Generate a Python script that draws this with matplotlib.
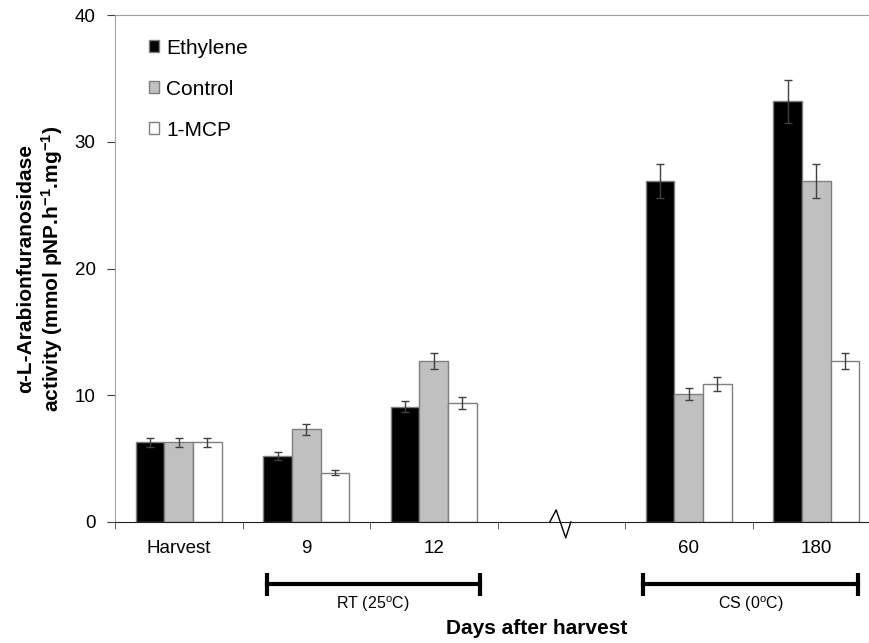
import numpy as np
import matplotlib
matplotlib.use("Agg")
import matplotlib.pyplot as plt

plt.rcParams['font.family'] = ['Liberation Sans', 'DejaVu Sans']
plt.rcParams['mathtext.fontset'] = 'custom'
plt.rcParams['mathtext.rm'] = 'Liberation Sans'
plt.rcParams['mathtext.it'] = 'Liberation Sans:italic'
plt.rcParams['mathtext.bf'] = 'Liberation Sans:bold'

# data (slot 3 is the axis break, left empty)
categories = ['Harvest', '9', '12', '', '60', '180']
ethylene = [6.3, 5.2, 9.1, np.nan, 26.9, 33.2]
control = [6.3, 7.3, 12.7, np.nan, 10.1, 26.9]
mcp = [6.3, 3.9, 9.4, np.nan, 10.9, 12.7]
ethylene_err = [0.35, 0.3, 0.45, np.nan, 1.35, 1.7]
control_err = [0.35, 0.4, 0.6, np.nan, 0.5, 1.35]
mcp_err = [0.35, 0.2, 0.45, np.nan, 0.55, 0.6]

series = [('Ethylene', ethylene, ethylene_err, 'black'),
          ('Control', control, control_err, '#c0c0c0'),
          ('1-MCP', mcp, mcp_err, 'white')]

fig = plt.figure(figsize=(8.7, 6.43), dpi=100)
ax = fig.add_axes([115/870, 1 - 522/643, 765/870, 507/643])

x = np.arange(len(categories))
w = 0.225
for i, (name, vals, errs, col) in enumerate(series):
    pos = x + (i - 1) * w
    ax.bar(pos, vals, w, color=col, edgecolor='#7f7f7f', linewidth=1, label=name, zorder=2)
    ax.errorbar(pos, vals, yerr=errs, fmt='none', ecolor='#404040', elinewidth=1,
                capsize=3, capthick=1, zorder=3)

ax.set_xlim(-0.5, len(categories) - 0.5)
ax.set_ylim(0, 40)
ax.set_yticks([0, 10, 20, 30, 40])
ax.set_xticks(x)
ax.set_xticklabels(categories, fontsize=13.5)
ax.set_xticks(np.arange(len(categories) + 1) - 0.5, minor=True)
ax.tick_params(axis='x', which='major', length=0, pad=13)
ax.tick_params(axis='x', which='minor', length=5, direction='out', color='#404040')
ax.tick_params(axis='y', labelsize=13.5, length=6, direction='out', color='#404040', pad=8)

for s in ['top', 'left']:
    ax.spines[s].set_color('#a0a0a0')
ax.spines['bottom'].set_color('#202020')
ax.spines['right'].set_visible(False)

# axis break symbol on the x axis
ax.plot([2.91, 2.96, 3.035, 3.075], [0, 0.95, -1.25, 0], color='black', lw=1,
        clip_on=False, zorder=4)

ax.set_ylabel('α-L-Arabionfuranosidase\nactivity (mmol pNP.h$^{\\mathbf{-1}}$.mg$^{\\mathbf{-1}}$)',
              fontsize=15, fontweight='bold', labelpad=7, linespacing=1.2)

# storage brackets below the axis
trans = ax.get_xaxis_transform()
brackets = [(0.69, 2.36, 'RT (25$^{\\mathrm{o}}$C)'), (3.64, 5.33, 'CS (0$^{\\mathrm{o}}$C)')]
for x0, x1, lab in brackets:
    yb = -62 / 507
    ax.plot([x0, x1], [yb, yb], color='black', lw=3, transform=trans, clip_on=False)
    for xe in (x0, x1):
        ax.plot([xe, xe], [yb - 12/507, yb + 11/507], color='black', lw=3,
                transform=trans, clip_on=False, solid_capstyle='butt')
    ax.text((x0 + x1) / 2, yb - 10/507, lab, transform=trans, ha='center', va='top',
            fontsize=11.5)

fig.text(537/870, 1 - 628/643, 'Days after harvest', ha='center', va='center',
         fontsize=15, fontweight='bold')

ax.legend(loc='upper left', bbox_to_anchor=(0.044, 0.953), frameon=False, fontsize=15,
          handlelength=0.5, handleheight=0.5, handletextpad=0.35, labelspacing=1.05,
          borderpad=0, borderaxespad=0)

fig.savefig('out.png', dpi=100)
